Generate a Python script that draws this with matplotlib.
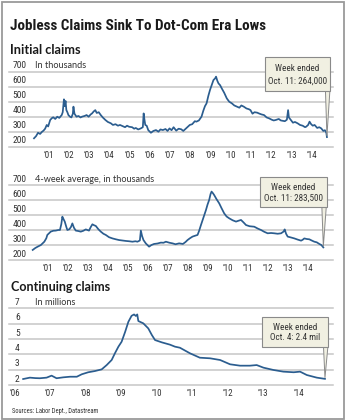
import matplotlib
matplotlib.use('Agg')
import matplotlib.pyplot as plt
from matplotlib import font_manager
from matplotlib.patches import Rectangle, Polygon

# --- data ---
# Initial claims, thousands (weekly)
ic_year = [2000.30, 2000.40, 2000.50, 2000.60, 2000.70, 2000.77, 2000.85, 2000.93, 2001.00, 2001.10,
           2001.18, 2001.25, 2001.35, 2001.45, 2001.55, 2001.67, 2001.72, 2001.78, 2001.82, 2001.86,
           2001.90, 2001.95, 2002.00, 2002.08, 2002.15, 2002.22, 2002.25, 2002.30, 2002.40, 2002.50,
           2002.60, 2002.67, 2002.80, 2002.90, 2003.00, 2003.10, 2003.17, 2003.25, 2003.33, 2003.40,
           2003.50, 2003.60, 2003.70, 2003.83, 2003.95, 2004.10, 2004.20, 2004.33, 2004.45, 2004.55,
           2004.67, 2004.80, 2004.90, 2005.00, 2005.15, 2005.25, 2005.33, 2005.45, 2005.58, 2005.68,
           2005.72, 2005.76, 2005.80, 2005.87, 2005.95, 2006.08, 2006.20, 2006.33, 2006.45, 2006.55,
           2006.67, 2006.80, 2006.90, 2007.00, 2007.10, 2007.20, 2007.33, 2007.45, 2007.58, 2007.68,
           2007.80, 2007.92, 2008.00, 2008.12, 2008.25, 2008.33, 2008.45, 2008.58, 2008.67, 2008.75,
           2008.83, 2008.92, 2009.00, 2009.08, 2009.17, 2009.25, 2009.30, 2009.36, 2009.42, 2009.50,
           2009.58, 2009.70, 2009.83, 2009.95, 2010.08, 2010.20, 2010.33, 2010.45, 2010.55, 2010.67,
           2010.80, 2010.92, 2011.00, 2011.10, 2011.20, 2011.33, 2011.45, 2011.55, 2011.67, 2011.80,
           2011.92, 2012.05, 2012.15, 2012.25, 2012.40, 2012.50, 2012.58, 2012.70, 2012.80, 2012.86,
           2012.90, 2013.00, 2013.10, 2013.20, 2013.33, 2013.45, 2013.58, 2013.70, 2013.75, 2013.85,
           2013.92, 2014.00, 2014.08, 2014.17, 2014.30, 2014.40, 2014.50, 2014.60, 2014.68, 2014.75,
           2014.78]
ic_val = [256, 270, 293, 285, 300, 307, 320, 345, 335, 378,
          390, 396, 385, 400, 392, 411, 430, 516, 470, 505,
          444, 430, 411, 400, 395, 420, 467, 420, 400, 405,
          395, 400, 405, 411, 400, 415, 422, 435, 444, 425,
          430, 411, 395, 378, 365, 356, 345, 350, 340, 345,
          338, 330, 340, 333, 330, 320, 325, 315, 322, 330,
          422, 380, 345, 340, 310, 293, 305, 311, 300, 315,
          311, 318, 305, 322, 310, 330, 307, 320, 316, 305,
          320, 335, 345, 350, 370, 367, 375, 400, 440, 470,
          489, 540, 578, 610, 644, 655, 667, 640, 622, 610,
          589, 560, 522, 500, 489, 475, 467, 460, 475, 467,
          455, 450, 444, 420, 430, 427, 420, 415, 411, 395,
          389, 380, 375, 378, 385, 375, 373, 370, 380, 444,
          395, 378, 360, 365, 356, 345, 340, 330, 333, 345,
          367, 350, 340, 345, 325, 330, 322, 305, 310, 293,
          264]

# 4-week average, thousands
avg_year = [2000.27, 2000.40, 2000.52, 2000.68, 2000.85, 2000.95, 2001.00, 2001.17, 2001.30, 2001.42,
            2001.55, 2001.63, 2001.70, 2001.75, 2001.80, 2001.87, 2001.95, 2002.00, 2002.10, 2002.18,
            2002.25, 2002.33, 2002.42, 2002.55, 2002.67, 2002.80, 2002.92, 2003.00, 2003.08, 2003.17,
            2003.25, 2003.33, 2003.42, 2003.55, 2003.67, 2003.80, 2003.92, 2004.08, 2004.25, 2004.42,
            2004.58, 2004.75, 2004.92, 2005.08, 2005.25, 2005.40, 2005.50, 2005.62, 2005.67, 2005.73,
            2005.80, 2005.92, 2006.08, 2006.20, 2006.33, 2006.50, 2006.67, 2006.80, 2006.92, 2007.10,
            2007.25, 2007.40, 2007.58, 2007.77, 2007.90, 2008.00, 2008.12, 2008.25, 2008.38, 2008.50,
            2008.58, 2008.67, 2008.80, 2008.92, 2009.00, 2009.08, 2009.15, 2009.20, 2009.27, 2009.33,
            2009.45, 2009.58, 2009.70, 2009.83, 2009.95, 2010.08, 2010.25, 2010.42, 2010.55, 2010.67,
            2010.80, 2010.92, 2011.10, 2011.33, 2011.50, 2011.67, 2011.83, 2012.00, 2012.17, 2012.33,
            2012.50, 2012.67, 2012.80, 2012.85, 2012.92, 2013.00, 2013.17, 2013.33, 2013.50, 2013.67,
            2013.75, 2013.83, 2013.95, 2014.08, 2014.20, 2014.33, 2014.45, 2014.58, 2014.68, 2014.78]
avg_val = [267, 280, 289, 300, 322, 345, 367, 389, 395, 396,
           400, 400, 440, 489, 475, 456, 420, 400, 405, 420,
           444, 415, 396, 393, 389, 395, 404, 400, 396, 420,
           438, 432, 427, 405, 389, 375, 367, 352, 344, 338,
           333, 330, 327, 325, 322, 325, 322, 330, 396, 360,
           333, 310, 289, 300, 307, 310, 316, 315, 322, 315,
           311, 305, 311, 307, 320, 333, 345, 356, 362, 367,
           395, 433, 485, 533, 570, 600, 640, 656, 645, 633,
           605, 578, 545, 511, 490, 478, 465, 456, 462, 467,
           450, 433, 425, 422, 410, 400, 388, 378, 380, 378,
           375, 378, 390, 404, 375, 356, 350, 344, 336, 329,
           335, 344, 340, 338, 330, 322, 318, 307, 300, 284]

# Continuing claims, millions
cc_year = [2006.26, 2006.45, 2006.60, 2006.73, 2006.92, 2007.06, 2007.20, 2007.39, 2007.58, 2007.77,
           2007.91, 2008.09, 2008.28, 2008.47, 2008.61, 2008.75, 2008.84, 2008.94, 2009.03, 2009.13,
           2009.22, 2009.31, 2009.38, 2009.43, 2009.47, 2009.50, 2009.64, 2009.78, 2009.88, 2009.97,
           2010.16, 2010.39, 2010.53, 2010.67, 2010.95, 2011.23, 2011.52, 2011.80, 2012.08, 2012.36,
           2012.64, 2012.83, 2013.02, 2013.30, 2013.58, 2013.87, 2014.05, 2014.24, 2014.52, 2014.75]
cc_val = [2.39, 2.48, 2.45, 2.44, 2.48, 2.61, 2.44, 2.50, 2.54, 2.54,
          2.70, 2.83, 2.91, 3.02, 3.30, 3.63, 4.06, 4.50, 4.82, 5.47,
          6.12, 6.51, 6.60, 6.50, 6.60, 6.17, 6.02, 5.69, 5.26, 4.93,
          4.78, 4.63, 4.50, 4.43, 4.07, 3.78, 3.74, 3.63, 3.35, 3.26,
          3.26, 3.30, 3.13, 2.98, 2.87, 2.83, 2.87, 2.65, 2.48, 2.40]

ic_ticks = [200, 300, 400, 500, 600, 700]
cc_ticks = [2, 3, 4, 5, 6, 7]
ic_years = list(range(2001, 2015))
cc_years = list(range(2006, 2015))

# --- fonts: pick a narrow face if one is installed ---
fonts = font_manager.fontManager.ttflist
names = {f.name for f in fonts}
NARROW, STRETCH = 'Roboto', 'normal'
for cand in ['Roboto Condensed', 'Liberation Sans Narrow', 'Open Sans Condensed']:
    if cand in names:
        NARROW = cand
        break
else:
    if any(f.name == 'DejaVu Sans' and f.stretch == 'condensed' for f in fonts):
        NARROW, STRETCH = 'DejaVu Sans', 'condensed'
HEAD = 'Lato'

W, H = 345, 420
fig = plt.figure(figsize=(W / 100, H / 100), dpi=100)
fig.patch.set_facecolor('white')
renderer = fig.canvas.get_renderer()

LINE = '#2b5d8f'
GRID = '#c6c6c6'
INK = '#333333'


def fit(txt, width):
    # shrink/grow a text so it spans the given pixel width
    w = txt.get_window_extent(renderer).width
    txt.set_fontsize(txt.get_fontsize() * width / w)
    return txt.get_fontsize()


def px_axes(left, top, right, bottom):
    return fig.add_axes([left / W, 1 - bottom / H, (right - left) / W, (bottom - top) / H])


def panel(top, bottom, x_anchor, ticks, years, unit, lx):
    # x_anchor: (year0, px0, px_per_year)
    y0, p0, ppy = x_anchor
    left, right = 9, 333
    ax = px_axes(left, top, right, bottom)
    ax.set_xlim(y0 + (left - p0) / ppy, y0 + (right - p0) / ppy)
    ax.set_ylim(ticks[0], ticks[-1])
    ax.axis('off')
    for v in ticks:
        ax.axhline(v, color=GRID, lw=1.1, zorder=0, clip_on=False)
        ax.annotate(str(v), xy=(0, v), xycoords=('axes fraction', 'data'),
                    xytext=(lx, 2.4), textcoords='offset points',
                    ha='left', va='baseline', fontsize=6.8, family=NARROW,
                    fontstretch=STRETCH, color=INK)
    ax.annotate(unit, xy=(0, ticks[-1]), xycoords=('axes fraction', 'data'),
                xytext=(19, 2.4), textcoords='offset points',
                ha='left', va='baseline', fontsize=6.6, family=HEAD, color=INK)
    for yr in years:
        ax.annotate("\u2019%02d" % (yr % 100), xy=(yr, 0), xycoords=('data', 'axes fraction'),
                    xytext=(0.5, -6), textcoords='offset points',
                    ha='center', va='center', fontsize=6.5, family=NARROW,
                    fontstretch=STRETCH, color=INK)
    return ax


ax1 = panel(71.7, 146.7, (2000.3, 34, 20.23), ic_ticks, ic_years, 'In thousands', 2.7)
ax1.plot(ic_year, ic_val, color=LINE, lw=1.25, clip_on=False, zorder=3)

ax2 = panel(185, 260, (2000.3, 33.3, 20.03), ic_ticks, ic_years,
            '4-week average, in thousands', 2.7)
ax2.plot(avg_year, avg_val, color=LINE, lw=1.25, clip_on=False, zorder=3)

ax3 = panel(308.3, 385, (2008, 85, 35.55), cc_ticks, cc_years, 'In millions', 4.3)
ax3.plot(cc_year, cc_val, color=LINE, lw=1.25, clip_on=False, zorder=3)

# overlay in pixel coordinates for frame, headings and callouts
ov = fig.add_axes([0, 0, 1, 1], zorder=10)
ov.set_xlim(0, W)
ov.set_ylim(H, 0)
ov.axis('off')
ov.patch.set_visible(False)

ov.add_patch(Rectangle((1.5, 1.5), W - 3, H - 3, fill=False, ec='#9a9a9a', lw=1.3))

title = ov.text(10, 30, 'Jobless Claims Sink To Dot-Com Era Lows', family=NARROW,
                fontstretch=STRETCH, weight='bold', fontsize=11.5, color='#1a1a1a',
                va='baseline', ha='left')
fit(title, 257)
h1 = ov.text(10, 53.5, 'Initial claims', family=HEAD, weight='bold', fontsize=8.8,
             color='#1a1a1a', va='baseline', ha='left')
fit(h1, 70)
h3 = ov.text(11, 291, 'Continuing claims', family=HEAD, weight='bold', fontsize=8.8,
             color='#1a1a1a', va='baseline', ha='left')
fit(h3, 99)
src = ov.text(12, 413, 'Sources: Labor Dept., Datastream', family=NARROW, fontstretch=STRETCH,
              fontsize=5, color=INK, va='baseline', ha='left')
fit(src, 88)


def callout(ax, x, y, box, lines):
    l, t, r, b = box
    tip = ov.transData.inverted().transform(ax.transData.transform((x, y)))
    ov.add_patch(Polygon([(tip[0] - 1.5, b - 1), (tip[0] + 3, b - 1), (tip[0], tip[1] - 1)],
                         closed=True, fc='#f1f0e2', ec='#8a8a8a', lw=0.7, zorder=5))
    ov.add_patch(Rectangle((l, t), r - l, b - t, fc='#f1f0e2', ec='#8a8a8a', lw=0.8, zorder=6))
    for frac, line in zip([0.34, 0.7], lines):
        ov.text((l + r) / 2, t + (b - t) * frac, line, ha='center', va='center',
                family=NARROW, fontstretch=STRETCH, fontsize=6.6, color=INK, zorder=7)


callout(ax1, ic_year[-1], ic_val[-1], (265, 57, 330, 91), ['Week ended', 'Oct. 11: 264,000'])
callout(ax2, avg_year[-1], avg_val[-1], (260, 177, 327, 207), ['Week ended', 'Oct. 11: 283,500'])
callout(ax3, cc_year[-1], cc_val[-1], (262, 317, 328, 347), ['Week ended', 'Oct. 4: 2.4 mil'])

fig.savefig('out.png', dpi=100, facecolor='white')
